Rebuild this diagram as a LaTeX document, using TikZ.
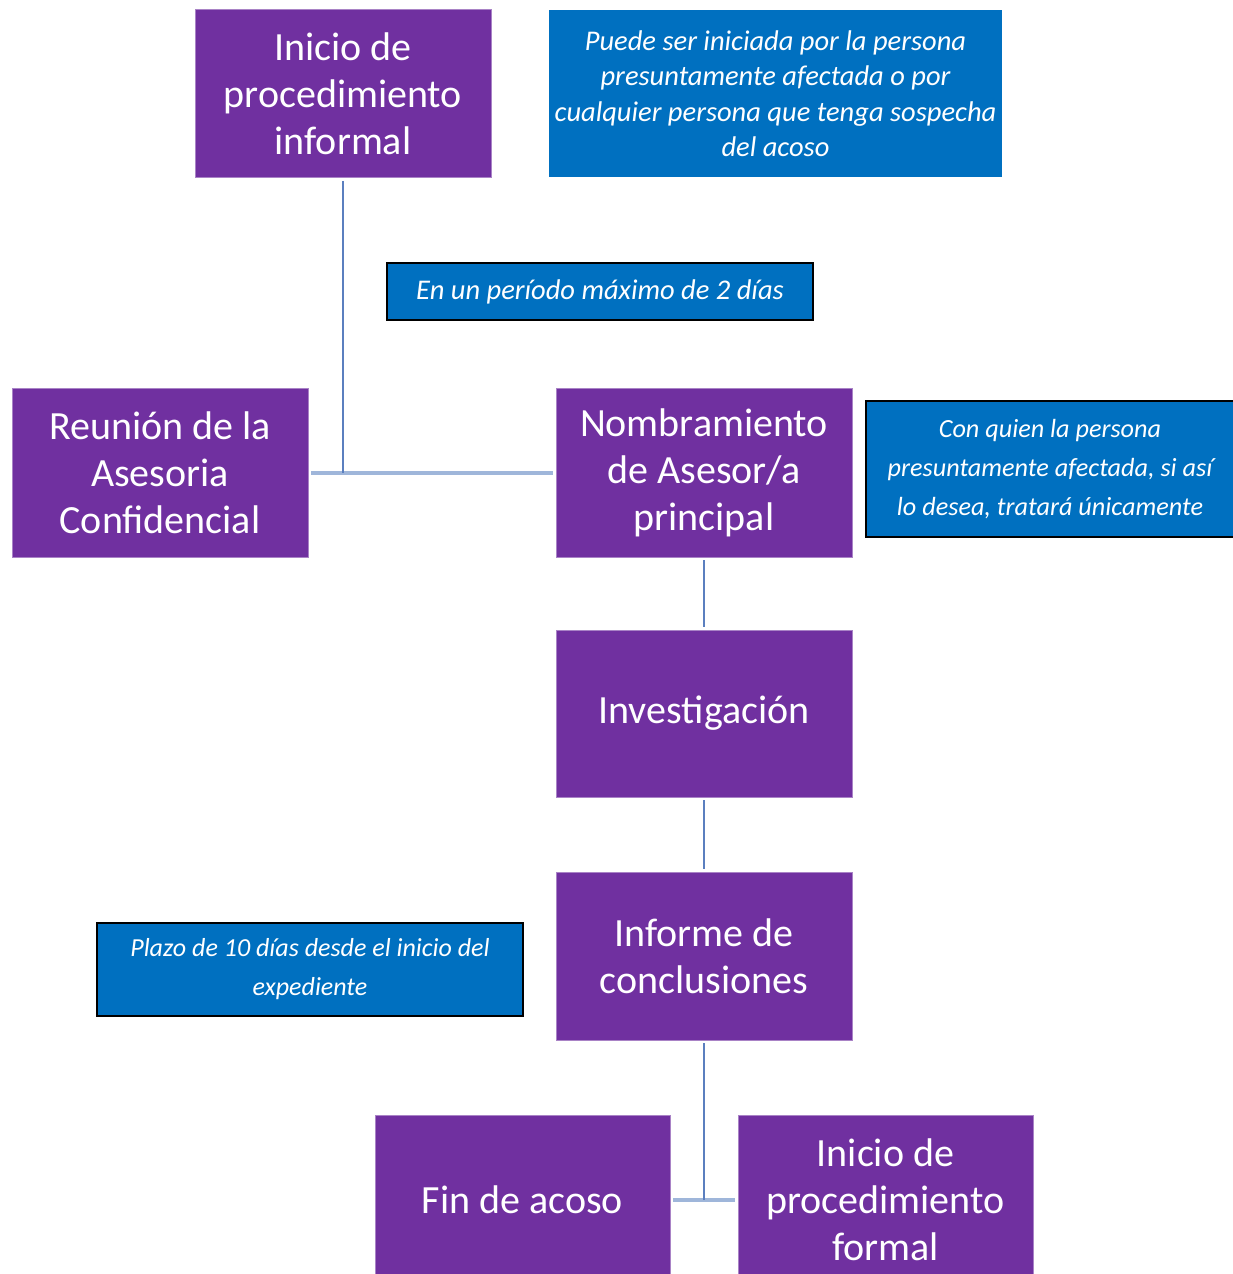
\documentclass[tikz,border=0pt]{standalone}
\usepackage{fontspec}
\setmainfont{Carlito}
\definecolor{pur}{HTML}{7030A0}
\definecolor{blu}{HTML}{0070C0}
\definecolor{lnd}{HTML}{5B7FBF}
\definecolor{lnl}{HTML}{9FB6DA}
\tikzset{
  pbox/.style={fill=pur, draw=pur!60!white, line width=0.8pt, text=white, align=center,
    minimum width=296pt, minimum height=168pt, inner sep=0pt,
    font=\fontsize{40}{47}\selectfont},
  bbox/.style={fill=blu, text=white, align=center, inner sep=0pt,
    font=\itshape\fontsize{28.5}{35.5}\selectfont},
  bboxk/.style={bbox, draw=black, line width=1.5pt},
  vline/.style={draw=lnd, line width=2pt},
  hline/.style={draw=lnl, line width=4pt}
}
\begin{document}
\begin{tikzpicture}[x=1pt,y=-1pt]
\useasboundingbox (0,0) rectangle (1233,1274);
\fill[white] (0,0) rectangle (1233,1274);
% purple boxes
\node[pbox] (inf) at (343,93.5) {Inicio de\\procedimiento\\informal};
\node[pbox, minimum height=169pt] (reu) at (160,472.5) {Reunión de la\\Asesoria\\Confidencial};
\node[pbox, minimum height=169pt] (nom) at (704,472.5) {Nombramiento\\de Asesor/a\\principal};
\node[pbox, minimum height=167pt] (inv) at (704,713.5) {Investigación};
\node[pbox] (infc) at (704,956) {Informe de\\conclusiones};
\node[pbox, minimum width=295pt, minimum height=170pt] (fin) at (522.5,1200) {Fin de acoso};
\node[pbox, minimum width=295pt, minimum height=170pt] (form) at (885.5,1200) {Inicio de\\procedimiento\\formal};
% blue notes
\node[bbox, minimum width=453pt, minimum height=167pt] (n1) at (775.5,93.5)
  {Puede ser iniciada por la persona\\presuntamente afectada o por\\cualquier persona que tenga sospecha\\del acoso};
\node[bboxk, minimum width=426pt, minimum height=57pt] (n2) at (600,291.5)
  {\raisebox{-5pt}{En un período máximo de 2 días}};
\node[bboxk, minimum width=368pt, minimum height=136pt, font=\itshape\fontsize{26.2}{39}\selectfont] (n3) at (1050,469)
  {Con quien la persona\\presuntamente afectada, si así\\lo desea, tratará únicamente};
\node[bboxk, minimum width=426pt, minimum height=93pt, font=\itshape\fontsize{26}{39}\selectfont] (n4) at (310,969.5)
  {\raisebox{-4pt}{Plazo de 10 días desde el inicio del}\\\raisebox{-4pt}{expediente}};
% connectors
\coordinate (j1) at (inf.south |- reu.east);
\coordinate (j2) at (infc.south |- fin.east);
\draw[hline, shorten <=3pt, shorten >=3pt] (reu.east) -- (nom.west);
\draw[vline, shorten <=3pt] (inf.south) -- (j1);
\draw[vline, shorten <=3pt, shorten >=3pt] (nom.south) -- (inv.north);
\draw[vline, shorten <=3pt, shorten >=3pt] (inv.south) -- (infc.north);
\draw[hline, shorten <=3pt, shorten >=3pt] (fin.east) -- (form.west);
\draw[vline, shorten <=3pt] (infc.south) -- (j2);
\end{tikzpicture}
\end{document}
